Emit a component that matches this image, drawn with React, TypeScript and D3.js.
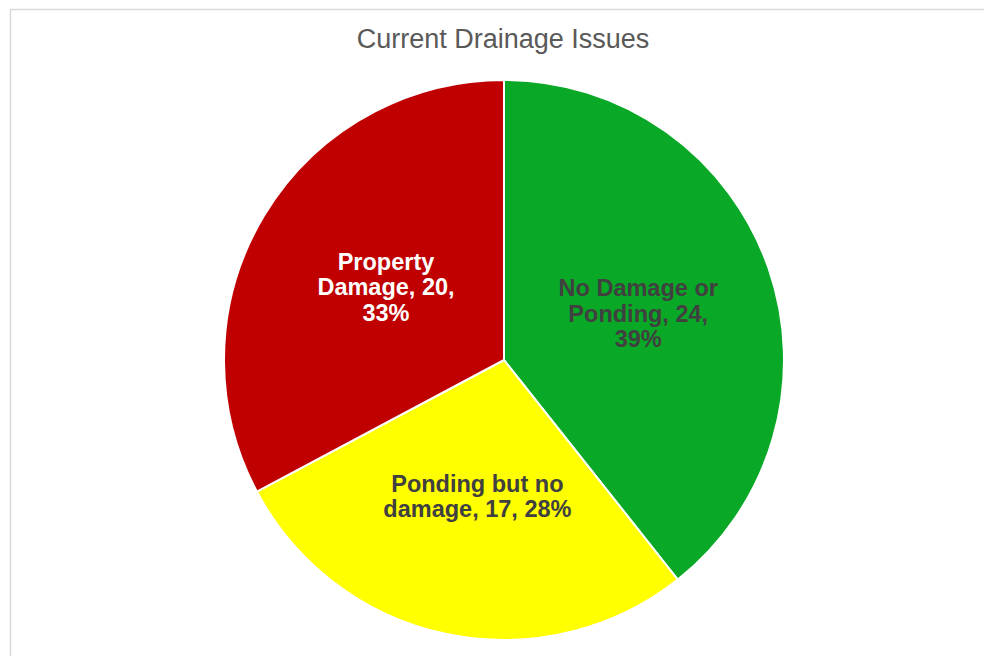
import React, { useRef, useEffect } from "react"
import * as d3 from "d3"

const categories = ["No Damage or Ponding", "Ponding but no damage", "Property Damage"]
const counts = [24, 17, 20]
const colors = ["#09a826", "#ffff00", "#c00000"]
const labelColors = ["#404040", "#404040", "#ffffff"]
const labelLines = [
  ["No Damage or", "Ponding, 24,", "39%"],
  ["Ponding but no", "damage, 17, 28%"],
  ["Property", "Damage, 20,", "33%"]
]

const FONT = "'Liberation Sans', Arial, Helvetica, sans-serif"

const App = () => {
  const svgRef = useRef<SVGSVGElement>(null)

  useEffect(() => {
    const svgWidth = 984
    const svgHeight = 656
    const cx = 504
    const cy = 360
    const radius = 280

    const svg = d3.select(svgRef.current)
    svg.selectAll("*").remove()
    svg.attr("width", svgWidth).attr("height", svgHeight)

    svg
      .append("rect")
      .attr("x", 10.5)
      .attr("y", 9.5)
      .attr("width", 1000)
      .attr("height", 700)
      .attr("fill", "#fff")
      .attr("stroke", "#d9d9d9")
      .attr("stroke-width", 1.5)

    svg
      .append("text")
      .attr("x", 503)
      .attr("y", 48)
      .attr("text-anchor", "middle")
      .style("font-family", FONT)
      .style("font-size", "27px")
      .attr("fill", "#595959")
      .text("Current Drainage Issues")

    const data = categories.map((c, i) => ({ name: c, value: counts[i], i }))

    const pie = d3
      .pie<any>()
      .value((d) => d.value)
      .sort(null)

    const arc = d3.arc<any>().innerRadius(0).outerRadius(radius)
    const labelArc = d3.arc<any>().innerRadius(radius * 0.5).outerRadius(radius * 0.5)

    const g = svg.append("g").attr("transform", `translate(${cx},${cy})`)
    const arcs = pie(data)

    g.selectAll(".slice")
      .data(arcs)
      .enter()
      .append("path")
      .attr("class", "slice")
      .attr("d", arc)
      .attr("fill", (d) => colors[d.data.i])
      .attr("stroke", "#fff")
      .attr("stroke-width", 2)
      .attr("stroke-linejoin", "round")

    const lineH = 25.5
    arcs.forEach((a) => {
      const [x, y] = labelArc.centroid(a)
      const lines = labelLines[a.data.i]
      const t = g
        .append("text")
        .attr("text-anchor", "middle")
        .style("font-family", FONT)
        .style("font-weight", "bold")
        .style("font-size", "23.5px")
        .attr("fill", labelColors[a.data.i])
      const top = y - ((lines.length - 1) * lineH) / 2 + 7.5
      lines.forEach((l, k) => {
        t.append("tspan").attr("x", x + 2).attr("y", top + k * lineH).text(l)
      })
    })
  }, [])

  return (
    <div style={{ position: "absolute", left: 0, top: 0 }}>
      <svg ref={svgRef} style={{ display: "block" }}></svg>
    </div>
  )
}

export default App
